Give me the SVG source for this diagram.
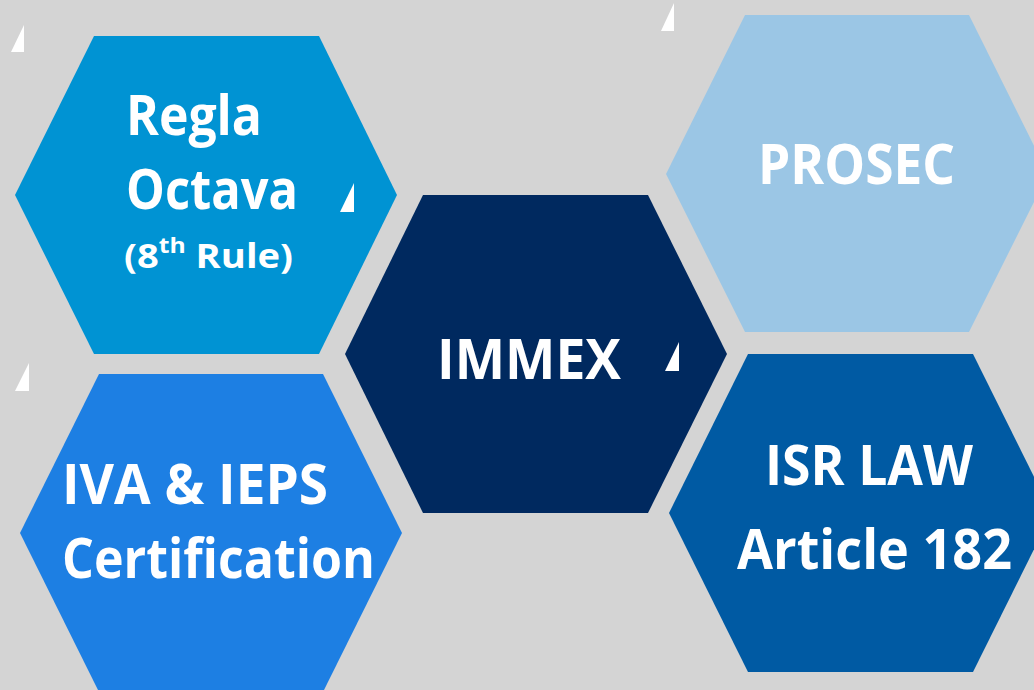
<svg xmlns="http://www.w3.org/2000/svg" width="1034" height="690" viewBox="0 0 1034 690">
<style>
.lbl{font-family:"Open Sans","Liberation Sans",sans-serif;font-weight:700;fill:#ffffff}
.big{font-size:56px}
.sm{font-size:34px}
.tri{fill:#ffffff}
</style>
<rect x="0" y="0" width="1034" height="690" fill="#d4d4d4"/>
<g id="node-regla">
<polygon points="94,36 319,36 397,195 319,354 94,354 15,195" fill="#0093d3"/>
<text class="lbl big" x="126" y="135" textLength="136" lengthAdjust="spacingAndGlyphs">Regla</text>
<text class="lbl big" x="126" y="209" textLength="172" lengthAdjust="spacingAndGlyphs">Octava</text>
<text class="lbl sm" x="124" y="268" textLength="169" lengthAdjust="spacingAndGlyphs">(8<tspan font-size="22" dy="-15">th</tspan><tspan dy="15"> Rule)</tspan></text>
</g>
<g id="node-immex">
<polygon points="423,195 648,195 727,354 648,513 423,513 345,354" fill="#00295f"/>
<text class="lbl big" x="437" y="379" textLength="184" lengthAdjust="spacingAndGlyphs">IMMEX</text>
</g>
<g id="node-prosec">
<polygon points="745,15 969,15 1048,174 969,332 745,332 666,174" fill="#9bc6e5"/>
<text class="lbl big" x="758" y="184" textLength="197" lengthAdjust="spacingAndGlyphs">PROSEC</text>
</g>
<g id="node-iva">
<polygon points="99,374 323,374 402,533 323,692 99,692 20,533" fill="#1d7fe3"/>
<text class="lbl big" x="62" y="504" textLength="266" lengthAdjust="spacingAndGlyphs">IVA &amp; IEPS</text>
<text class="lbl big" x="62" y="578" textLength="313" lengthAdjust="spacingAndGlyphs">Certification</text>
</g>
<g id="node-isr">
<polygon points="748,354 973,354 1052,513 973,672 748,672 669,513" fill="#005aa3"/>
<text class="lbl big" x="765" y="485" textLength="208" lengthAdjust="spacingAndGlyphs">ISR LAW</text>
<text class="lbl big" x="737" y="569" textLength="275" lengthAdjust="spacingAndGlyphs">Article 182</text>
</g>
<g id="decorations">
<polygon class="tri" points="11,52 24,25 24,52"/>
<polygon class="tri" points="340,212 354,183 354,212"/>
<polygon class="tri" points="661,31 674,3 674,31"/>
<polygon class="tri" points="15,391 29,363 29,391"/>
<polygon class="tri" points="665,371 679,342 679,371"/>
</g>
<g id="connectors"/>
</svg>
